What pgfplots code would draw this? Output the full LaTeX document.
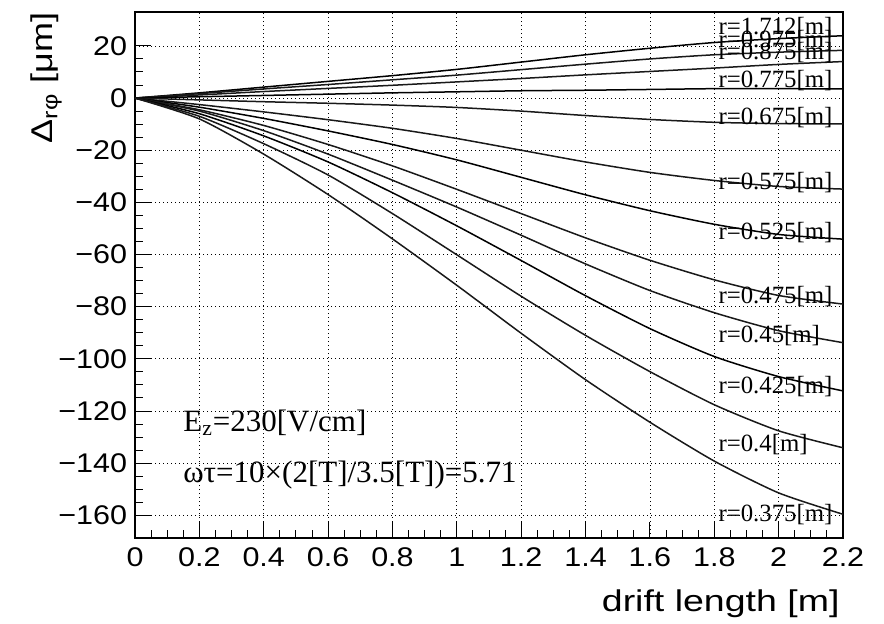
\documentclass[border=0pt]{standalone}
\usepackage{pgfplots}
\pgfplotsset{compat=1.18}
\usepackage{fontspec}
\setmainfont{Liberation Sans}
\newfontfamily\tms{Liberation Serif}
\begin{document}
\begin{tikzpicture}
\useasboundingbox (0,0) rectangle (442pt,311.5pt);
\begin{axis}[
  at={(67.5pt,42.5pt)}, anchor=south west, scale only axis,
  width=354pt, height=263pt,
  xmin=0, xmax=2.2, ymin=-168.7, ymax=33,
  xtick={0,0.2,0.4,0.6,0.8,1,1.2,1.4,1.6,1.8,2,2.2},
  xticklabels={0,0.2,0.4,0.6,0.8,1,1.2,1.4,1.6,1.8,2,2.2},
  ytick={-160,-140,-120,-100,-80,-60,-40,-20,0,20},
  yticklabels={−160,−140,−120,−100,−80,−60,−40,−20,0,20},
  minor x tick num=3, minor y tick num=3,
  tick align=inside, xtick pos=left, ytick pos=left,
  major tick length=8pt, minor tick length=4pt,
  grid=major,
  major grid style={black, line width=0.4pt, dash pattern=on 0.6pt off 1.4pt},
  axis line style={line width=0.6pt},
  tick style={black, line width=0.5pt},
  tick label style={font=\fontsize{13.5}{13.5}\selectfont, xscale=1.13},
  xticklabel style={yshift=-1.5pt},
  clip mode=individual,
  cycle list={{black, solid, no markers}},
  no markers,
  every axis plot/.append style={black!90, solid, line width=0.75pt, smooth, tension=0.4},
]
% r=1.712
\addplot coordinates {(0,0)(0.2,2)(0.4,4.2)(0.6,6.4)(0.8,8.6)(1.0,11.0)(1.2,13.8)(1.4,16.6)(1.6,19.1)(1.8,21.3)(2.0,22.8)(2.2,23.9)};
% r=0.975
\addplot coordinates {(0,0)(0.2,1.7)(0.4,3.5)(0.6,5.2)(0.8,7.0)(1.0,8.8)(1.2,10.9)(1.4,13.0)(1.6,15.0)(1.8,16.6)(2.0,17.6)(2.2,18.3)};
% r=0.875
\addplot coordinates {(0,0)(0.2,1.2)(0.4,2.5)(0.6,3.7)(0.8,4.9)(1.0,6.2)(1.2,7.5)(1.4,8.9)(1.6,10.2)(1.8,11.5)(2.0,12.9)(2.2,14.0)};
% r=0.775
\addplot coordinates {(0,0)(0.2,0.5)(0.4,1.0)(0.6,1.5)(0.8,2.0)(1.0,2.4)(1.2,2.8)(1.4,3.0)(1.6,3.3)(1.8,3.6)(2.0,3.6)(2.2,3.5)};
% r=0.675
\addplot coordinates {(0,0)(0.2,-0.7)(0.4,-1.4)(0.6,-2.0)(0.8,-2.7)(1.0,-3.6)(1.2,-5.0)(1.4,-6.7)(1.6,-8.2)(1.8,-9.3)(2.0,-9.8)(2.2,-9.9)};
% r=0.575
\addplot coordinates {(0,0)(0.2,-2.5)(0.4,-5.3)(0.6,-8.3)(0.8,-11.6)(1.0,-15.5)(1.2,-20.0)(1.4,-24.5)(1.6,-28.5)(1.8,-31.6)(2.0,-33.9)(2.2,-34.9)};
% r=0.525
\addplot coordinates {(0,0)(0.2,-3.5)(0.4,-7.8)(0.6,-12.6)(0.8,-17.8)(1.0,-23.7)(1.2,-30.4)(1.4,-37.1)(1.6,-43.2)(1.8,-48.4)(2.0,-52.3)(2.2,-54.1)};
% r=0.475
\addplot coordinates {(0,0)(0.2,-4.5)(0.4,-10.5)(0.6,-17.8)(0.8,-26.0)(1.0,-35.0)(1.2,-44.3)(1.4,-53.6)(1.6,-62.2)(1.8,-69.7)(2.0,-75.7)(2.2,-79.0)};
% r=0.45
\addplot coordinates {(0,0)(0.2,-5.0)(0.4,-12.5)(0.6,-21.5)(0.8,-31.5)(1.0,-41.8)(1.2,-52.6)(1.4,-63.6)(1.6,-73.8)(1.8,-82.3)(2.0,-89.2)(2.2,-93.8)};
% r=0.425
\addplot coordinates {(0,0)(0.2,-6.0)(0.4,-14.5)(0.6,-24.5)(0.8,-36.3)(1.0,-49.0)(1.2,-62.3)(1.4,-75.8)(1.6,-88.4)(1.8,-99.1)(2.0,-106.8)(2.2,-112.3)};
% r=0.4
\addplot coordinates {(0,0)(0.2,-7.0)(0.4,-17.5)(0.6,-29.5)(0.8,-44.3)(1.0,-60.1)(1.2,-76.0)(1.4,-91.0)(1.6,-104.9)(1.8,-117.6)(2.0,-127.6)(2.2,-134.1)};
% r=0.375
\addplot coordinates {(0,0)(0.2,-8.0)(0.4,-21.5)(0.6,-37.0)(0.8,-54.0)(1.0,-71.8)(1.2,-90.2)(1.4,-108.0)(1.6,-124.3)(1.8,-139.2)(2.0,-151.4)(2.2,-159.6)};

\begin{scope}[every node/.style={anchor=base west, inner sep=0pt, font=\tms\fontsize{12.4}{12.4}\selectfont}]
\node at (axis cs:1.812,24.3) {r=1.712[m]};
\node at (axis cs:1.812,19.4) {r=0.975[m]};
\node at (axis cs:1.812,14.7) {r=0.875[m]};
\node at (axis cs:1.812,4.2) {r=0.775[m]};
\node at (axis cs:1.812,-10.2) {r=0.675[m]};
\node at (axis cs:1.812,-35.2) {r=0.575[m]};
\node at (axis cs:1.812,-54.1) {r=0.525[m]};
\node at (axis cs:1.812,-78.9) {r=0.475[m]};
\node at (axis cs:1.812,-93.8) {r=0.45[m]};
\node at (axis cs:1.812,-113.2) {r=0.425[m]};
\node at (axis cs:1.812,-135.6) {r=0.4[m]};
\node at (axis cs:1.812,-162.5) {r=0.375[m]};
\end{scope}
\node[anchor=base west, inner sep=0pt, font=\tms\fontsize{15.5}{15.5}\selectfont] at (axis cs:0.149,-127.9) {E\textsubscript{z}=230[V/cm]};
\node[anchor=base west, inner sep=0pt, font=\tms\fontsize{15.5}{15.5}\selectfont] at (axis cs:0.149,-147.5) {ωτ=10×(2[T]/3.5[T])=5.71};
\end{axis}
\node[anchor=base east, inner sep=0pt, xscale=1.25, font=\fontsize{15}{15}\selectfont] at (420pt,5.65pt) {drift length [m]};
\node[rotate=90, xscale=1.2, anchor=base east, inner sep=0pt, font=\fontsize{15}{15}\selectfont] at (26.5pt,305.5pt) {Δ\textsubscript{rφ} [μm]};
\end{tikzpicture}
\end{document}
